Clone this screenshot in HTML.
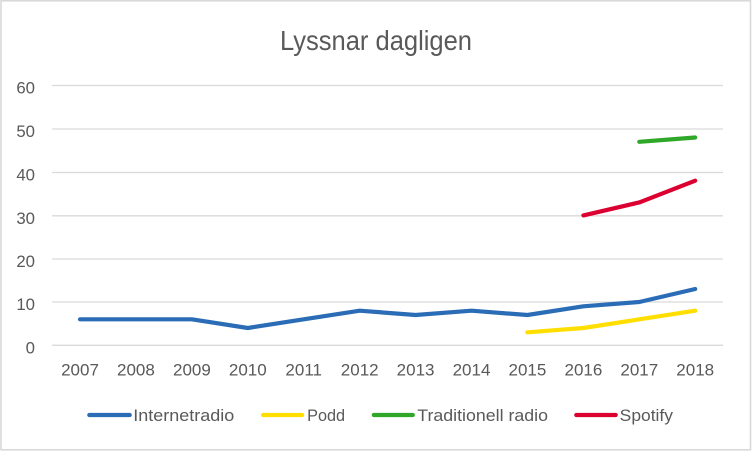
<!DOCTYPE html>
<html><head><meta charset="utf-8"><style>
html,body{margin:0;padding:0;background:#fff;}
svg{display:block;}
text{font-family:"Liberation Sans",Arial,sans-serif;fill:#595959;}
</style></head><body>
<svg width="752" height="452" viewBox="0 0 752 452" xmlns="http://www.w3.org/2000/svg">
<rect x="0" y="0" width="752" height="452" fill="#fff"/>
<rect x="1" y="0.8" width="749.5" height="449" fill="none" stroke="#d9d9d9" stroke-width="1.6"/>
<text x="376" y="50" font-size="28" text-anchor="middle" textLength="192" lengthAdjust="spacingAndGlyphs">Lyssnar dagligen</text>
<g stroke="#d9d9d9" stroke-width="1.3">
<line x1="52" y1="85.5" x2="723" y2="85.5"/>
<line x1="52" y1="129" x2="723" y2="129"/>
<line x1="52" y1="172.5" x2="723" y2="172.5"/>
<line x1="52" y1="215.8" x2="723" y2="215.8"/>
<line x1="52" y1="259" x2="723" y2="259"/>
<line x1="52" y1="302" x2="723" y2="302"/>
<line x1="52" y1="345.3" x2="723" y2="345.3"/>
</g>
<g font-size="16.8" text-anchor="end">
<text x="35" y="93.5">60</text>
<text x="35" y="137">50</text>
<text x="35" y="180.5">40</text>
<text x="35" y="223.8">30</text>
<text x="35" y="267">20</text>
<text x="35" y="310">10</text>
<text x="35" y="353.3">0</text>
</g>
<g font-size="17" text-anchor="middle">
<text x="80" y="375.5">2007</text>
<text x="135.9" y="375.5">2008</text>
<text x="191.9" y="375.5">2009</text>
<text x="247.8" y="375.5">2010</text>
<text x="303.7" y="375.5">2011</text>
<text x="359.7" y="375.5">2012</text>
<text x="415.6" y="375.5">2013</text>
<text x="471.5" y="375.5">2014</text>
<text x="527.4" y="375.5">2015</text>
<text x="583.4" y="375.5">2016</text>
<text x="639.3" y="375.5">2017</text>
<text x="695.2" y="375.5">2018</text>
</g>
<g fill="none" stroke-width="4.2" stroke-linecap="round" stroke-linejoin="round">
<polyline stroke="#2A6DB6" points="80,319.3 135.9,319.3 191.9,319.3 247.8,328 303.7,319.3 359.7,310.7 415.6,315 471.5,310.7 527.4,315 583.4,306.3 639.3,302 695.2,289"/>
<polyline stroke="#FFDE00" points="527.4,332.3 583.4,328 639.3,319.3 695.2,310.7"/>
<polyline stroke="#2FA82A" points="639.3,141.8 695.2,137.5"/>
<polyline stroke="#DC0030" points="583.4,215.4 639.3,202.4 695.2,180.7"/>
</g>
<g stroke-width="4.2" stroke-linecap="round">
<line x1="89.3" y1="415" x2="129.7" y2="415" stroke="#2A6DB6"/>
<line x1="263.1" y1="415" x2="302.2" y2="415" stroke="#FFDE00"/>
<line x1="373.8" y1="415" x2="412.8" y2="415" stroke="#2FA82A"/>
<line x1="576.3" y1="415" x2="615.7" y2="415" stroke="#DC0030"/>
</g>
<g font-size="16.5">
<text x="133.3" y="421" textLength="101" lengthAdjust="spacingAndGlyphs">Internetradio</text>
<text x="307.1" y="421" textLength="38" lengthAdjust="spacingAndGlyphs">Podd</text>
<text x="417.3" y="421" textLength="130.7" lengthAdjust="spacingAndGlyphs">Traditionell radio</text>
<text x="619.7" y="421" textLength="53.3" lengthAdjust="spacingAndGlyphs">Spotify</text>
</g>
</svg>
</body></html>
